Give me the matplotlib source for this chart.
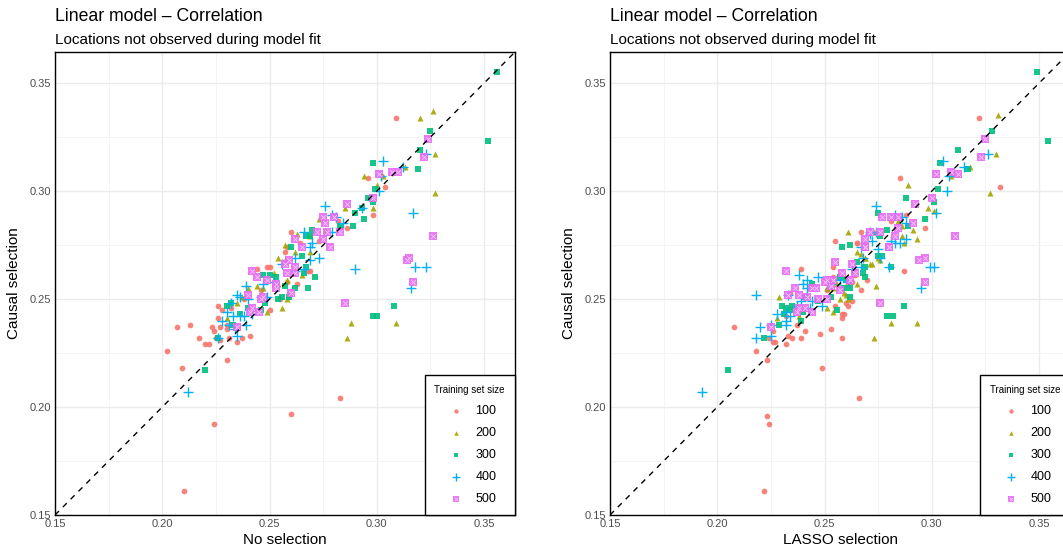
'''
Causal vs. no/LASSO selection correlation scatter (two panels)
'''

import matplotlib
matplotlib.use('Agg')
import matplotlib.pyplot as plt
from matplotlib.ticker import MultipleLocator
from matplotlib.legend_handler import HandlerTuple

plt.rcParams['font.family'] = ['Liberation Sans', 'DejaVu Sans']

# Training set sizes and ggplot hue colours
SIZES = ['100', '200', '300', '400', '500']
COLORS = ['#F8766D', '#A3A500', '#00BF7D', '#00B0F6', '#E76BF3']

# Left panel: (no selection, causal selection)
NONE_100 = [(0.210, 0.161), (0.224, 0.192), (0.260, 0.197), (0.283, 0.204), (0.202, 0.226),
            (0.209, 0.218), (0.207, 0.237), (0.213, 0.238), (0.217, 0.232), (0.220, 0.229),
            (0.222, 0.229), (0.223, 0.237), (0.224, 0.235), (0.225, 0.232), (0.227, 0.237),
            (0.227, 0.231), (0.230, 0.236), (0.230, 0.238), (0.230, 0.222), (0.226, 0.241),
            (0.226, 0.247), (0.228, 0.245), (0.232, 0.246), (0.231, 0.232), (0.235, 0.230),
            (0.237, 0.232), (0.241, 0.233), (0.244, 0.264), (0.249, 0.265), (0.250, 0.265),
            (0.260, 0.281), (0.309, 0.334), (0.296, 0.306), (0.304, 0.302), (0.298, 0.289),
            (0.282, 0.286), (0.286, 0.283), (0.257, 0.272), (0.258, 0.274), (0.264, 0.276),
            (0.269, 0.263), (0.258, 0.258), (0.240, 0.251), (0.259, 0.252), (0.273, 0.277),
            (0.246, 0.254), (0.238, 0.250), (0.250, 0.245), (0.255, 0.250), (0.263, 0.257),
            (0.268, 0.263)]
NONE_200 = [(0.327, 0.299), (0.288, 0.239), (0.309, 0.239), (0.286, 0.232), (0.298, 0.292),
            (0.285, 0.292), (0.273, 0.287), (0.276, 0.282), (0.269, 0.272), (0.265, 0.261),
            (0.326, 0.337), (0.320, 0.334), (0.327, 0.317), (0.313, 0.311), (0.303, 0.307),
            (0.294, 0.307), (0.300, 0.303), (0.263, 0.280), (0.269, 0.279), (0.262, 0.272),
            (0.257, 0.275), (0.254, 0.269), (0.257, 0.268), (0.252, 0.262), (0.258, 0.259),
            (0.254, 0.257), (0.244, 0.256), (0.240, 0.255), (0.237, 0.251), (0.249, 0.244),
            (0.256, 0.246), (0.258, 0.250), (0.235, 0.248), (0.230, 0.241), (0.247, 0.255)]
NONE_300 = [(0.356, 0.355), (0.352, 0.323), (0.325, 0.328), (0.320, 0.319), (0.319, 0.310),
            (0.298, 0.313), (0.299, 0.301), (0.296, 0.297), (0.298, 0.295), (0.293, 0.292),
            (0.290, 0.290), (0.294, 0.287), (0.289, 0.284), (0.283, 0.284), (0.270, 0.282),
            (0.267, 0.279), (0.265, 0.270), (0.267, 0.265), (0.271, 0.260), (0.268, 0.255),
            (0.266, 0.262), (0.308, 0.247), (0.298, 0.242), (0.300, 0.242), (0.220, 0.217),
            (0.226, 0.232), (0.233, 0.238), (0.236, 0.243), (0.230, 0.247), (0.232, 0.248),
            (0.240, 0.246), (0.246, 0.245), (0.248, 0.248), (0.254, 0.250), (0.256, 0.251),
            (0.259, 0.251), (0.262, 0.255), (0.257, 0.256), (0.253, 0.260), (0.250, 0.261),
            (0.247, 0.261), (0.260, 0.274), (0.269, 0.279)]
NONE_400 = [(0.212, 0.207), (0.317, 0.290), (0.290, 0.264), (0.318, 0.265), (0.323, 0.265),
            (0.316, 0.255), (0.276, 0.293), (0.279, 0.289), (0.281, 0.288), (0.284, 0.285),
            (0.303, 0.314), (0.323, 0.317), (0.312, 0.311), (0.302, 0.307), (0.301, 0.300),
            (0.293, 0.292), (0.266, 0.281), (0.279, 0.281), (0.270, 0.276), (0.269, 0.274),
            (0.273, 0.269), (0.269, 0.268), (0.262, 0.269), (0.262, 0.263), (0.266, 0.264),
            (0.256, 0.266), (0.252, 0.258), (0.247, 0.257), (0.246, 0.251), (0.249, 0.251),
            (0.239, 0.256), (0.235, 0.252), (0.236, 0.251), (0.240, 0.250), (0.232, 0.248),
            (0.230, 0.244), (0.233, 0.242), (0.236, 0.242), (0.238, 0.242), (0.239, 0.238),
            (0.228, 0.240), (0.231, 0.238), (0.234, 0.236), (0.226, 0.232), (0.235, 0.233),
            (0.242, 0.243)]
NONE_500 = [(0.285, 0.248), (0.326, 0.279), (0.315, 0.269), (0.314, 0.268), (0.317, 0.258),
            (0.324, 0.324), (0.322, 0.316), (0.307, 0.309), (0.310, 0.309), (0.301, 0.308),
            (0.298, 0.297), (0.286, 0.294), (0.275, 0.288), (0.280, 0.288), (0.276, 0.285),
            (0.272, 0.281), (0.277, 0.281), (0.283, 0.281), (0.262, 0.278), (0.275, 0.278),
            (0.265, 0.274), (0.278, 0.274), (0.259, 0.268), (0.257, 0.266), (0.262, 0.265),
            (0.262, 0.262), (0.258, 0.262), (0.244, 0.260), (0.249, 0.259), (0.253, 0.257),
            (0.260, 0.253), (0.240, 0.252), (0.246, 0.250), (0.242, 0.246), (0.241, 0.244),
            (0.245, 0.244), (0.235, 0.237), (0.242, 0.263), (0.253, 0.255), (0.247, 0.251)]

# Right panel: (LASSO selection, causal selection)
LASSO_100 = [(0.222, 0.161), (0.223, 0.196), (0.224, 0.192), (0.249, 0.218), (0.266, 0.204),
             (0.208, 0.237), (0.218, 0.226), (0.223, 0.222), (0.224, 0.232), (0.226, 0.235),
             (0.226, 0.230), (0.227, 0.230), (0.232, 0.229), (0.233, 0.233), (0.235, 0.232),
             (0.239, 0.232), (0.241, 0.235), (0.232, 0.242), (0.234, 0.253), (0.237, 0.238),
             (0.248, 0.234), (0.253, 0.236), (0.258, 0.232), (0.258, 0.243), (0.259, 0.243),
             (0.258, 0.241), (0.260, 0.248), (0.261, 0.247), (0.263, 0.249), (0.255, 0.247),
             (0.239, 0.264), (0.254, 0.265), (0.255, 0.277), (0.267, 0.281), (0.287, 0.263),
             (0.297, 0.283), (0.281, 0.286), (0.288, 0.289), (0.263, 0.258), (0.265, 0.276),
             (0.322, 0.334), (0.332, 0.302), (0.285, 0.306), (0.261, 0.257), (0.264, 0.261),
             (0.267, 0.254), (0.270, 0.259), (0.254, 0.260), (0.251, 0.254), (0.265, 0.276)]
LASSO_200 = [(0.289, 0.303), (0.327, 0.299), (0.298, 0.292), (0.301, 0.291), (0.291, 0.282),
             (0.293, 0.278), (0.284, 0.286), (0.286, 0.284), (0.287, 0.276), (0.274, 0.256),
             (0.281, 0.239), (0.293, 0.239), (0.273, 0.232), (0.272, 0.266), (0.269, 0.269),
             (0.265, 0.272), (0.261, 0.281), (0.265, 0.257), (0.275, 0.269), (0.302, 0.308),
             (0.309, 0.307), (0.331, 0.335), (0.330, 0.317), (0.318, 0.311), (0.312, 0.308),
             (0.286, 0.279), (0.273, 0.281), (0.229, 0.251), (0.228, 0.241), (0.238, 0.242),
             (0.251, 0.246), (0.254, 0.244), (0.257, 0.250), (0.261, 0.250), (0.267, 0.271),
             (0.269, 0.269), (0.276, 0.268), (0.271, 0.266), (0.256, 0.257), (0.251, 0.255),
             (0.254, 0.255), (0.259, 0.253), (0.260, 0.252)]
LASSO_300 = [(0.205, 0.217), (0.222, 0.232), (0.229, 0.238), (0.231, 0.243), (0.230, 0.247),
             (0.232, 0.246), (0.234, 0.245), (0.235, 0.247), (0.240, 0.244), (0.241, 0.251),
             (0.244, 0.257), (0.247, 0.249), (0.253, 0.251), (0.256, 0.245), (0.259, 0.255),
             (0.262, 0.255), (0.262, 0.251), (0.257, 0.260), (0.260, 0.259), (0.269, 0.260),
             (0.268, 0.262), (0.269, 0.265), (0.275, 0.270), (0.277, 0.270), (0.258, 0.274),
             (0.262, 0.275), (0.279, 0.282), (0.276, 0.279), (0.275, 0.290), (0.281, 0.265),
             (0.287, 0.247), (0.279, 0.242), (0.282, 0.242), (0.297, 0.287), (0.301, 0.295),
             (0.289, 0.284), (0.265, 0.267), (0.239, 0.240), (0.312, 0.319), (0.328, 0.328),
             (0.317, 0.310), (0.304, 0.313), (0.303, 0.301), (0.288, 0.297), (0.349, 0.355),
             (0.354, 0.323)]
LASSO_400 = [(0.193, 0.207), (0.218, 0.252), (0.218, 0.232), (0.220, 0.237), (0.225, 0.238),
             (0.225, 0.233), (0.228, 0.243), (0.232, 0.238), (0.232, 0.240), (0.234, 0.242),
             (0.232, 0.244), (0.237, 0.247), (0.233, 0.252), (0.239, 0.249), (0.238, 0.261),
             (0.242, 0.259), (0.240, 0.257), (0.247, 0.260), (0.251, 0.257), (0.242, 0.255),
             (0.244, 0.249), (0.249, 0.247), (0.243, 0.246), (0.257, 0.259), (0.261, 0.258),
             (0.253, 0.257), (0.263, 0.264), (0.267, 0.265), (0.268, 0.269), (0.275, 0.273),
             (0.276, 0.269), (0.272, 0.277), (0.267, 0.274), (0.274, 0.293), (0.280, 0.265),
             (0.283, 0.289), (0.286, 0.288), (0.288, 0.285), (0.281, 0.277), (0.283, 0.276),
             (0.285, 0.276), (0.288, 0.278), (0.271, 0.280), (0.274, 0.281), (0.295, 0.255),
             (0.299, 0.265), (0.301, 0.265), (0.302, 0.290), (0.305, 0.314), (0.326, 0.317),
             (0.307, 0.300), (0.315, 0.311), (0.308, 0.307), (0.271, 0.281)]
LASSO_500 = [(0.232, 0.263), (0.233, 0.252), (0.225, 0.237), (0.236, 0.255), (0.238, 0.252),
             (0.237, 0.244), (0.238, 0.246), (0.242, 0.251), (0.241, 0.246), (0.244, 0.255),
             (0.246, 0.255), (0.244, 0.244), (0.247, 0.250), (0.251, 0.250), (0.250, 0.258),
             (0.251, 0.259), (0.253, 0.256), (0.254, 0.259), (0.257, 0.254), (0.258, 0.262),
             (0.262, 0.259), (0.264, 0.262), (0.255, 0.267), (0.263, 0.266), (0.269, 0.274),
             (0.269, 0.274), (0.271, 0.281), (0.276, 0.281), (0.280, 0.274), (0.277, 0.288),
             (0.281, 0.288), (0.284, 0.288), (0.284, 0.283), (0.283, 0.279), (0.291, 0.285),
             (0.292, 0.294), (0.300, 0.297), (0.276, 0.248), (0.294, 0.268), (0.297, 0.269),
             (0.297, 0.258), (0.311, 0.279), (0.325, 0.324), (0.323, 0.316), (0.302, 0.308),
             (0.312, 0.308), (0.309, 0.309), (0.269, 0.278), (0.280, 0.274)]

# Marker styles per training set size: (marker, size, linewidth)
STYLES = [('o', 17, 0), ('^', 19, 0), ('s', 15, 0), ('+', 46, 1.0), ('s', 26, 0)]

LIM = (0.15, 0.3644)


def draw_panel(ax, groups, xlabel):
    handles = []
    for grp, col, sty in zip(groups, COLORS, STYLES):
        xs = [p[0] for p in grp]
        ys = [p[1] for p in grp]
        mk, sz, lw = sty
        if mk == '+':
            h = ax.scatter(xs, ys, marker=mk, s=sz, color=col, linewidths=lw, zorder=3)
        else:
            h = ax.scatter(xs, ys, marker=mk, s=sz, color=col, linewidths=0, alpha=0.9, zorder=3)
        if col == COLORS[4]:
            # square-cross look of shape 7
            h2 = ax.scatter(xs, ys, marker='x', s=11, color='#F6C8FA', linewidths=0.6, zorder=4)
            h = (h, h2)
        handles.append(h)

    ax.axline((0.15, 0.15), slope=1, color='black', linestyle=(0, (4, 4)), linewidth=1, zorder=5)

    ax.set_xlim(LIM)
    ax.set_ylim(LIM)
    ax.xaxis.set_major_locator(MultipleLocator(0.05))
    ax.yaxis.set_major_locator(MultipleLocator(0.05))
    ax.xaxis.set_minor_locator(MultipleLocator(0.025))
    ax.yaxis.set_minor_locator(MultipleLocator(0.025))
    ax.xaxis.set_major_formatter(lambda v, pos: f'{v:.2f}')
    ax.yaxis.set_major_formatter(lambda v, pos: f'{v:.2f}')
    ax.grid(which='major', color='#EBEBEB', linewidth=1.0, zorder=0)
    ax.grid(which='minor', color='#F2F2F2', linewidth=0.6, zorder=0)
    ax.set_axisbelow(True)
    ax.tick_params(which='both', length=0, labelsize=8, labelcolor='#4D4D4D', pad=3)
    for sp in ax.spines.values():
        sp.set_color('black')
        sp.set_linewidth(1.0)

    ax.set_xlabel(xlabel, fontsize=11, labelpad=3)
    ax.set_ylabel('Causal selection', fontsize=11, labelpad=6)
    ax.text(0, 1.066, 'Linear model \u2013 Correlation', transform=ax.transAxes,
            fontsize=12.7, ha='left', va='baseline')
    ax.text(0, 1.018, 'Locations not observed during model fit', transform=ax.transAxes,
            fontsize=11, ha='left', va='baseline')

    leg = ax.legend(handles, SIZES, title='Training set size', loc='lower right',
                    bbox_to_anchor=(1.0, 0.0), borderaxespad=0, fontsize=9,
                    title_fontsize=7, frameon=True, fancybox=False, edgecolor='black',
                    framealpha=1, markerscale=0.75, handletextpad=0.6, labelspacing=0.8,
                    borderpad=0.8, handler_map={tuple: HandlerTuple(ndivide=1)})
    leg.get_frame().set_linewidth(1.0)
    leg.set_zorder(10)


def main():
    fig = plt.figure(figsize=(10.63, 5.53), dpi=100)
    ax1 = fig.add_axes([55 / 1063, 38 / 553, 460 / 1063, 463 / 553])
    ax2 = fig.add_axes([610 / 1063, 38 / 553, 460 / 1063, 463 / 553])

    draw_panel(ax1, [NONE_100, NONE_200, NONE_300, NONE_400, NONE_500], 'No selection')
    draw_panel(ax2, [LASSO_100, LASSO_200, LASSO_300, LASSO_400, LASSO_500], 'LASSO selection')

    fig.savefig('out.png', dpi=100)
    plt.close(fig)


if __name__ == '__main__':
    main()
